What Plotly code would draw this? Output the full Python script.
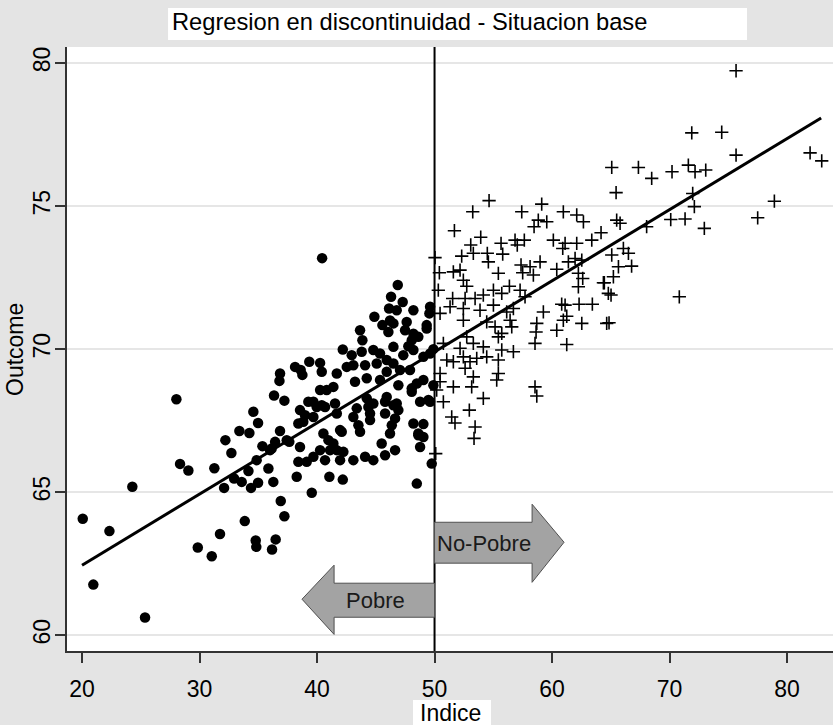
import plotly.graph_objects as go

# ---- data ----
pobre_x = [20.06, 20.96, 22.33, 24.28, 25.36, 28.03, 28.34, 29.05, 29.85, 31.04, 31.26, 31.74, 32.09, 32.2,
           32.71, 32.94, 33.39, 33.59, 33.85, 34.24, 34.16, 34.38, 34.58, 34.98, 34.78, 34.83, 34.86, 34.98,
           35.35, 35.86, 36.28, 36.17, 36.48, 36.91, 37.22, 36.34, 37.22, 36.85, 36.8, 36.85, 36.43, 36.14,
           37.64, 40.43,
           46.87, 46.3, 47.29, 46.13, 46.78, 48.2, 49.62, 49.56, 44.88, 45.56, 46.5, 47.63, 47.49, 48.2,
           48.62, 48.06, 49.33, 43.66, 46.07, 43.86, 46.5, 42.19, 42.95, 43.8, 44.79, 45.36, 47.34, 48.2,
           49.05, 49.62,
           38.13, 38.61, 39.34, 40.26, 40.4, 41.68, 42.53, 43.09, 44.09, 45.08, 45.93, 47.06, 47.91, 46.5,
           43.23, 44.23, 45.36, 46.92, 48.06, 49.05, 49.9, 40.82, 41.39, 40.26, 39.69, 40.68, 41.53, 41.68,
           44.23, 44.79, 45.79, 46.5, 46.92, 48.77, 49.62, 43.09, 44.51, 45.79, 46.64, 43.52, 43.66, 48.2,
           49.05, 38.55, 38.98, 38.83, 39.69, 39.97, 39.26, 38.41,
           40.54, 40.97, 41.39, 41.68, 42.1, 42.24, 40.26, 41.11, 40.68, 41.96, 43.09, 44.09, 44.79, 45.5,
           45.79, 46.64, 46.21, 46.36, 48.62, 48.77, 48.49, 49.76, 41.05, 42.19, 39.55, 38.27, 39.12, 38.41,
           39.69,
           48.62, 49.05, 38.55, 41.96, 37.42, 40.4, 43.38, 44.37, 44.51, 45.93, 46.78, 48.06, 49.48,
           49.33, 45.93, 46.21, 48.49, 47.77, 49.9, 38.75, 36.0]
pobre_y = [64.07, 61.77, 63.64, 65.19, 60.62, 68.25, 65.99, 65.76, 63.07, 62.76, 65.84, 63.54, 65.15, 66.82,
           66.37, 65.48, 67.14, 65.36, 63.99, 67.07, 65.74, 65.15, 67.81, 67.42, 63.31, 63.09, 66.12, 65.33,
           66.61, 65.83, 65.36, 63.0, 63.35, 64.69, 64.16, 68.38, 68.2, 69.15, 68.89, 67.14, 66.76, 66.53,
           66.76, 73.18,
           72.24, 71.83, 71.65, 71.42, 71.36, 71.36, 71.48, 71.25, 71.13, 70.84, 70.9, 70.95, 70.66, 70.54,
           70.43, 70.31, 70.84, 70.66, 70.6, 70.31, 70.08, 69.99, 69.79, 69.91, 69.97, 69.85, 69.79, 69.97,
           69.73, 69.85,
           69.38, 69.27, 69.56, 69.52, 69.21, 69.15, 69.38, 69.44, 69.44, 69.5, 69.21, 69.27, 69.27, 69.5,
           68.86, 68.98, 68.92, 68.74, 68.63, 68.92, 68.74, 68.57, 68.68, 68.57, 68.16, 67.98, 68.1, 67.75,
           68.28, 68.1, 68.16, 68.04, 67.87, 68.16, 68.16, 67.63, 67.75, 67.75, 67.58, 67.34, 67.11, 67.4,
           67.38, 67.87, 67.69, 67.46, 67.63, 67.98, 68.16, 67.4,
           67.05, 66.82, 66.7, 66.47, 67.11, 66.41, 66.47, 66.47, 66.12, 66.12, 66.12, 66.24, 66.12, 66.7,
           66.29, 66.47, 67.05, 67.34, 67.05, 66.58, 65.3, 66.0, 65.54, 65.44, 64.98, 65.54, 66.06, 66.06,
           66.24,
           66.99, 66.93, 66.58, 67.17, 66.82, 68.04, 67.93, 67.98, 67.52, 68.33, 68.1, 68.51, 68.22,
           70.72, 69.62, 71.0, 68.8, 70.1, 70.0, 69.1, 66.47]

nopobre_x = [54.64, 53.25, 57.42, 59.12, 60.96, 62.1, 62.67, 58.83, 59.55, 58.47, 51.69, 53.93, 53.08, 53.3,
             52.31, 54.49, 54.58, 55.66, 55.8, 56.85, 57.64, 57.04, 60.11, 61.11, 60.91, 62.1, 63.38, 64.17,
             50.04, 50.41, 51.6, 52.17, 52.45, 52.74, 55.43, 57.36, 58.13, 58.98, 57.5, 58.41, 60.4, 61.39,
             61.96, 62.53, 62.24, 62.61, 62.24, 64.37, 64.79, 50.32, 56.37, 55.01, 57.28, 55.72, 57.7, 54.15,
             53.45, 52.6, 51.54, 51.32, 50.47, 52.45, 52.45, 53.87, 55.01, 56.14, 56.71, 56.43, 56.57,
             54.44, 55.15, 55.72, 59.26, 58.7, 58.64, 58.55, 60.4, 60.96, 61.25, 60.82, 61.11, 62.3, 63.43,
             62.53, 64.65, 61.25, 52.74, 53.3, 52.17, 54.15, 55.43, 55.72, 56.71, 50.75, 51.04, 51.6, 52.45,
             53.02, 53.59, 54.44, 55.43, 52.6, 53.3, 55.43, 55.29, 50.47, 50.47, 51.6, 53.16, 50.18, 50.75,
             54.15, 58.55, 58.7, 52.96, 51.46, 51.74, 53.45, 53.36, 50.1,
             65.08, 67.35, 68.48, 70.21, 71.6, 72.17, 73.08, 75.66, 81.96, 82.95, 65.45, 71.97, 72.11, 78.92,
             77.5, 70.1, 71.32, 72.96, 68.05, 65.5, 65.79, 70.83, 65.08, 66.07, 66.5, 65.65, 66.77, 65.22,
             64.45, 65.02, 64.85, 75.66, 71.89, 74.44]
nopobre_y = [75.19, 74.8, 74.8, 75.07, 74.8, 74.69, 74.45, 74.51, 74.45, 74.28, 74.14, 73.91, 73.64, 73.35,
             73.25, 73.35, 73.05, 73.7, 73.32, 73.81, 73.81, 73.64, 73.81, 73.7, 73.52, 73.7, 73.81, 74.07,
             73.2, 72.67, 72.7, 72.76, 72.41, 72.2, 72.65, 72.94, 72.88, 73.05, 72.67, 72.59, 72.79, 73.05,
             73.17, 73.11, 72.65, 72.47, 72.18, 72.32, 71.95, 72.06, 72.2, 72.06, 72.06, 71.95, 71.83, 71.89,
             71.77, 71.77, 71.77, 71.48, 71.25, 71.42, 71.01, 71.36, 71.54, 71.3, 71.42, 71.01, 70.78,
             70.95, 70.78, 70.55, 71.3, 70.9, 70.6, 70.2, 70.66, 71.01, 71.15, 71.57, 71.54, 71.57, 71.57,
             70.9, 70.9, 70.16, 70.43, 70.2, 70.03, 70.08, 70.43, 69.97, 69.91, 70.2, 69.62, 69.56, 69.73,
             69.56, 69.68, 69.73, 69.62, 69.33, 69.03, 69.15, 68.92, 69.15, 68.86, 68.68, 68.68, 68.57, 68.16,
             68.28, 68.68, 68.36, 67.87, 67.63, 67.42, 67.28, 66.88, 66.35,
             76.35, 76.35, 75.97, 76.2, 76.43, 76.2, 76.26, 76.78, 76.86, 76.58, 75.47, 75.44, 74.98, 75.17,
             74.59, 74.53, 74.55, 74.22, 74.28, 74.51, 74.4, 71.83, 73.29, 73.52, 73.35, 72.88, 72.9, 72.53,
             72.32, 71.89, 70.92, 79.73, 77.56, 77.58]

fit_x = [20.0, 82.9]
fit_y = [62.45, 78.08]

cutoff = 50
x_ticks = [20, 30, 40, 50, 60, 70, 80]
y_ticks = [60, 65, 70, 75, 80]

FONT = "Liberation Sans, Arial, sans-serif"

fig = go.Figure()
fig.add_trace(go.Scatter(x=pobre_x, y=pobre_y, mode="markers",
                         marker=dict(symbol="circle", size=10.5, color="black", line=dict(width=0)),
                         showlegend=False))
fig.add_trace(go.Scatter(x=nopobre_x, y=nopobre_y, mode="markers",
                         marker=dict(symbol="cross-thin", size=9.5, color="black",
                                     line=dict(width=1.6, color="black")),
                         showlegend=False))
fig.add_trace(go.Scatter(x=fit_x, y=fit_y, mode="lines",
                         line=dict(color="black", width=3), showlegend=False))

shapes = []
shapes.append(dict(type="line", xref="x", yref="paper", x0=cutoff, x1=cutoff, y0=0, y1=1,
                   line=dict(color="black", width=2), layer="above"))
arrow_style = dict(fillcolor="#a3a3a3", line=dict(color="#505050", width=1), layer="above",
                   xref="x", yref="y")
shapes.append(dict(type="path",
                   path="M 50,63.95 L 58.3,63.95 L 58.3,64.58 L 61.02,63.25 L 58.3,61.85 L 58.3,62.52 L 50,62.52 Z",
                   **arrow_style))
shapes.append(dict(type="path",
                   path="M 50,61.82 L 41.45,61.82 L 41.45,62.45 L 38.72,61.26 L 41.45,60.03 L 41.45,60.63 L 50,60.63 Z",
                   **arrow_style))
shapes.append(dict(type="rect", xref="paper", yref="paper", x0=0.1319, x1=0.8877, y0=1.0116, y1=1.0646,
                   fillcolor="white", line=dict(width=0), layer="above"))
shapes.append(dict(type="rect", xref="paper", yref="paper", x0=0.4517, x1=0.5535, y0=-0.1225, y1=-0.0811,
                   fillcolor="white", line=dict(width=0), layer="above"))

annotations = [
    dict(text="Regresion en discontinuidad - Situacion base", xref="paper", yref="paper",
         x=0.1345, y=1.0414, xanchor="left", yanchor="middle", showarrow=False,
         font=dict(family=FONT, size=23.7, color="black")),
    dict(text="Indice", xref="paper", yref="paper", x=0.5013, y=-0.1026, xanchor="center",
         yanchor="middle", showarrow=False, font=dict(family=FONT, size=23, color="black")),
    dict(text="Outcome", xref="paper", yref="paper", x=-0.0679, y=0.5, xanchor="center",
         yanchor="middle", textangle=-90, showarrow=False, font=dict(family=FONT, size=23, color="black")),
    dict(text="No-Pobre", xref="x", yref="y", x=54.21, y=63.22, showarrow=False,
         font=dict(family=FONT, size=22, color="#1a1a1a")),
    dict(text="Pobre", xref="x", yref="y", x=44.94, y=61.22, showarrow=False,
         font=dict(family=FONT, size=22, color="#1a1a1a")),
]

fig.update_layout(
    width=833, height=725,
    margin=dict(l=67, r=0, t=47, b=74, autoexpand=False),
    paper_bgcolor="#e4e4e4", plot_bgcolor="white",
    font=dict(family=FONT, size=23, color="black"),
    shapes=shapes, annotations=annotations,
    showlegend=False,
)
fig.update_xaxes(range=[18.72, 83.91], tickvals=x_ticks, showgrid=False, zeroline=False,
                 showline=True, linecolor="#333333", linewidth=2, ticks="outside", ticklen=10,
                 tickwidth=1.5, tickcolor="#333333", tickfont=dict(size=23), ticklabelstandoff=6,
                 automargin=False)
fig.update_yaxes(range=[59.45, 80.56], tickvals=y_ticks, showgrid=True, gridcolor="#e6e6e6", gridwidth=2,
                 zeroline=False, showline=True, linecolor="#333333", linewidth=2, ticks="outside",
                 ticklen=10, tickwidth=1.5, tickcolor="#333333", tickangle=-90, tickfont=dict(size=23),
                 ticklabelstandoff=-4, automargin=False)

fig.write_html("out.html", config={"displayModeBar": False},
               post_script="document.body.style.margin='0';document.body.style.overflow='hidden';")
